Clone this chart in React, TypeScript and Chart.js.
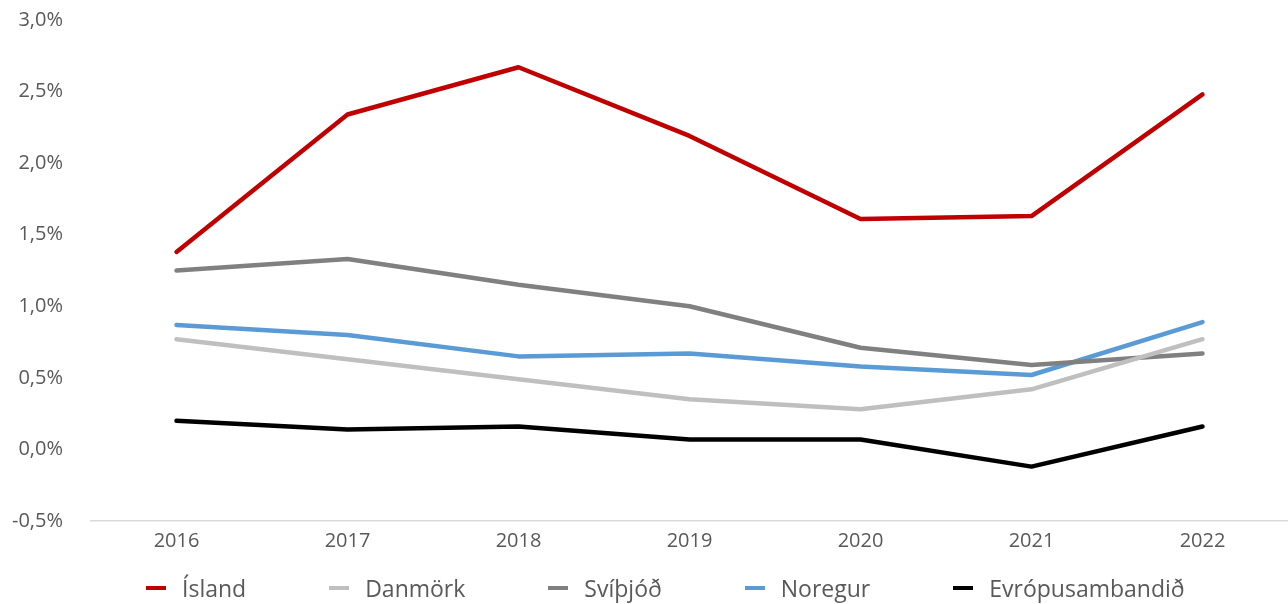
import React, { useEffect, useRef } from "react";
import { Chart, registerables } from "chart.js";

Chart.register(...registerables);

const years = ["2016", "2017", "2018", "2019", "2020", "2021", "2022"];
const island = [1.38, 2.34, 2.67, 2.19, 1.61, 1.63, 2.48];
const danmork = [0.77, 0.63, 0.49, 0.35, 0.28, 0.42, 0.77];
const svithjod = [1.25, 1.33, 1.15, 1.0, 0.71, 0.59, 0.67];
const noregur = [0.87, 0.8, 0.65, 0.67, 0.58, 0.52, 0.89];
const evropa = [0.2, 0.14, 0.16, 0.07, 0.07, -0.12, 0.16];

const seriesNames = ["Ísland", "Danmörk", "Svíþjóð", "Noregur", "Evrópusambandið"];
const seriesColors = ["#C00000", "#BFBFBF", "#808080", "#5B9BD5", "#000000"];
const seriesData = [island, danmork, svithjod, noregur, evropa];

const FONT = "'Open Sans', sans-serif";

export default function App() {
  const ref = useRef<HTMLCanvasElement | null>(null);
  useEffect(() => {
    if (!ref.current) return;
    const chart = new Chart(ref.current, {
      type: "line",
      data: {
        labels: years,
        datasets: seriesNames.map((name, i) => ({
          label: name,
          data: seriesData[i],
          borderColor: seriesColors[i],
          backgroundColor: seriesColors[i],
          borderWidth: 4.5,
          pointRadius: 0,
          tension: 0,
          borderCapStyle: "round" as const,
          borderJoinStyle: "round" as const,
        })),
      },
      options: {
        animation: false,
        responsive: true,
        maintainAspectRatio: false,
        layout: { padding: { top: 20, right: 0, bottom: 50, left: 0 } },
        plugins: { legend: { display: false }, tooltip: { enabled: false } },
        scales: {
          x: {
            offset: true,
            grid: { display: false, drawTicks: false },
            border: { display: true, color: "#D9D9D9", width: 1.5 },
            ticks: { color: "#595959", font: { family: FONT, size: 20 }, padding: 8 },
            afterFit: (axis: any) => {
              axis.height = 33;
            },
          },
          y: {
            min: -0.5,
            max: 3.0,
            grid: { display: false, drawTicks: false },
            border: { display: false },
            ticks: {
              stepSize: 0.5,
              color: "#595959",
              font: { family: FONT, size: 20 },
              padding: 28,
              callback: (v: any) => Number(v).toFixed(1).replace(".", ",") + "%",
            },
            afterFit: (axis: any) => {
              axis.width = 91;
              axis.paddingTop = 0;
              axis.paddingBottom = 0;
            },
          },
        },
      },
    });
    return () => chart.destroy();
  }, []);

  return (
    <div style={{ position: "fixed", left: 0, top: 0, width: 1288, height: 604, background: "#fff" }}>
      <canvas ref={ref} />
      <div
        style={{
          position: "absolute",
          left: 146,
          top: 572,
          display: "flex",
          alignItems: "center",
          gap: 83,
          fontFamily: FONT,
          fontSize: 23,
          color: "#595959",
          whiteSpace: "nowrap",
        }}
      >
        {seriesNames.map((name, i) => (
          <div key={name} style={{ display: "flex", alignItems: "center" }}>
            <span
              style={{
                display: "inline-block",
                width: 20,
                height: 4,
                background: seriesColors[i],
                marginRight: 16,
              }}
            />
            <span>{name}</span>
          </div>
        ))}
      </div>
    </div>
  );
}
